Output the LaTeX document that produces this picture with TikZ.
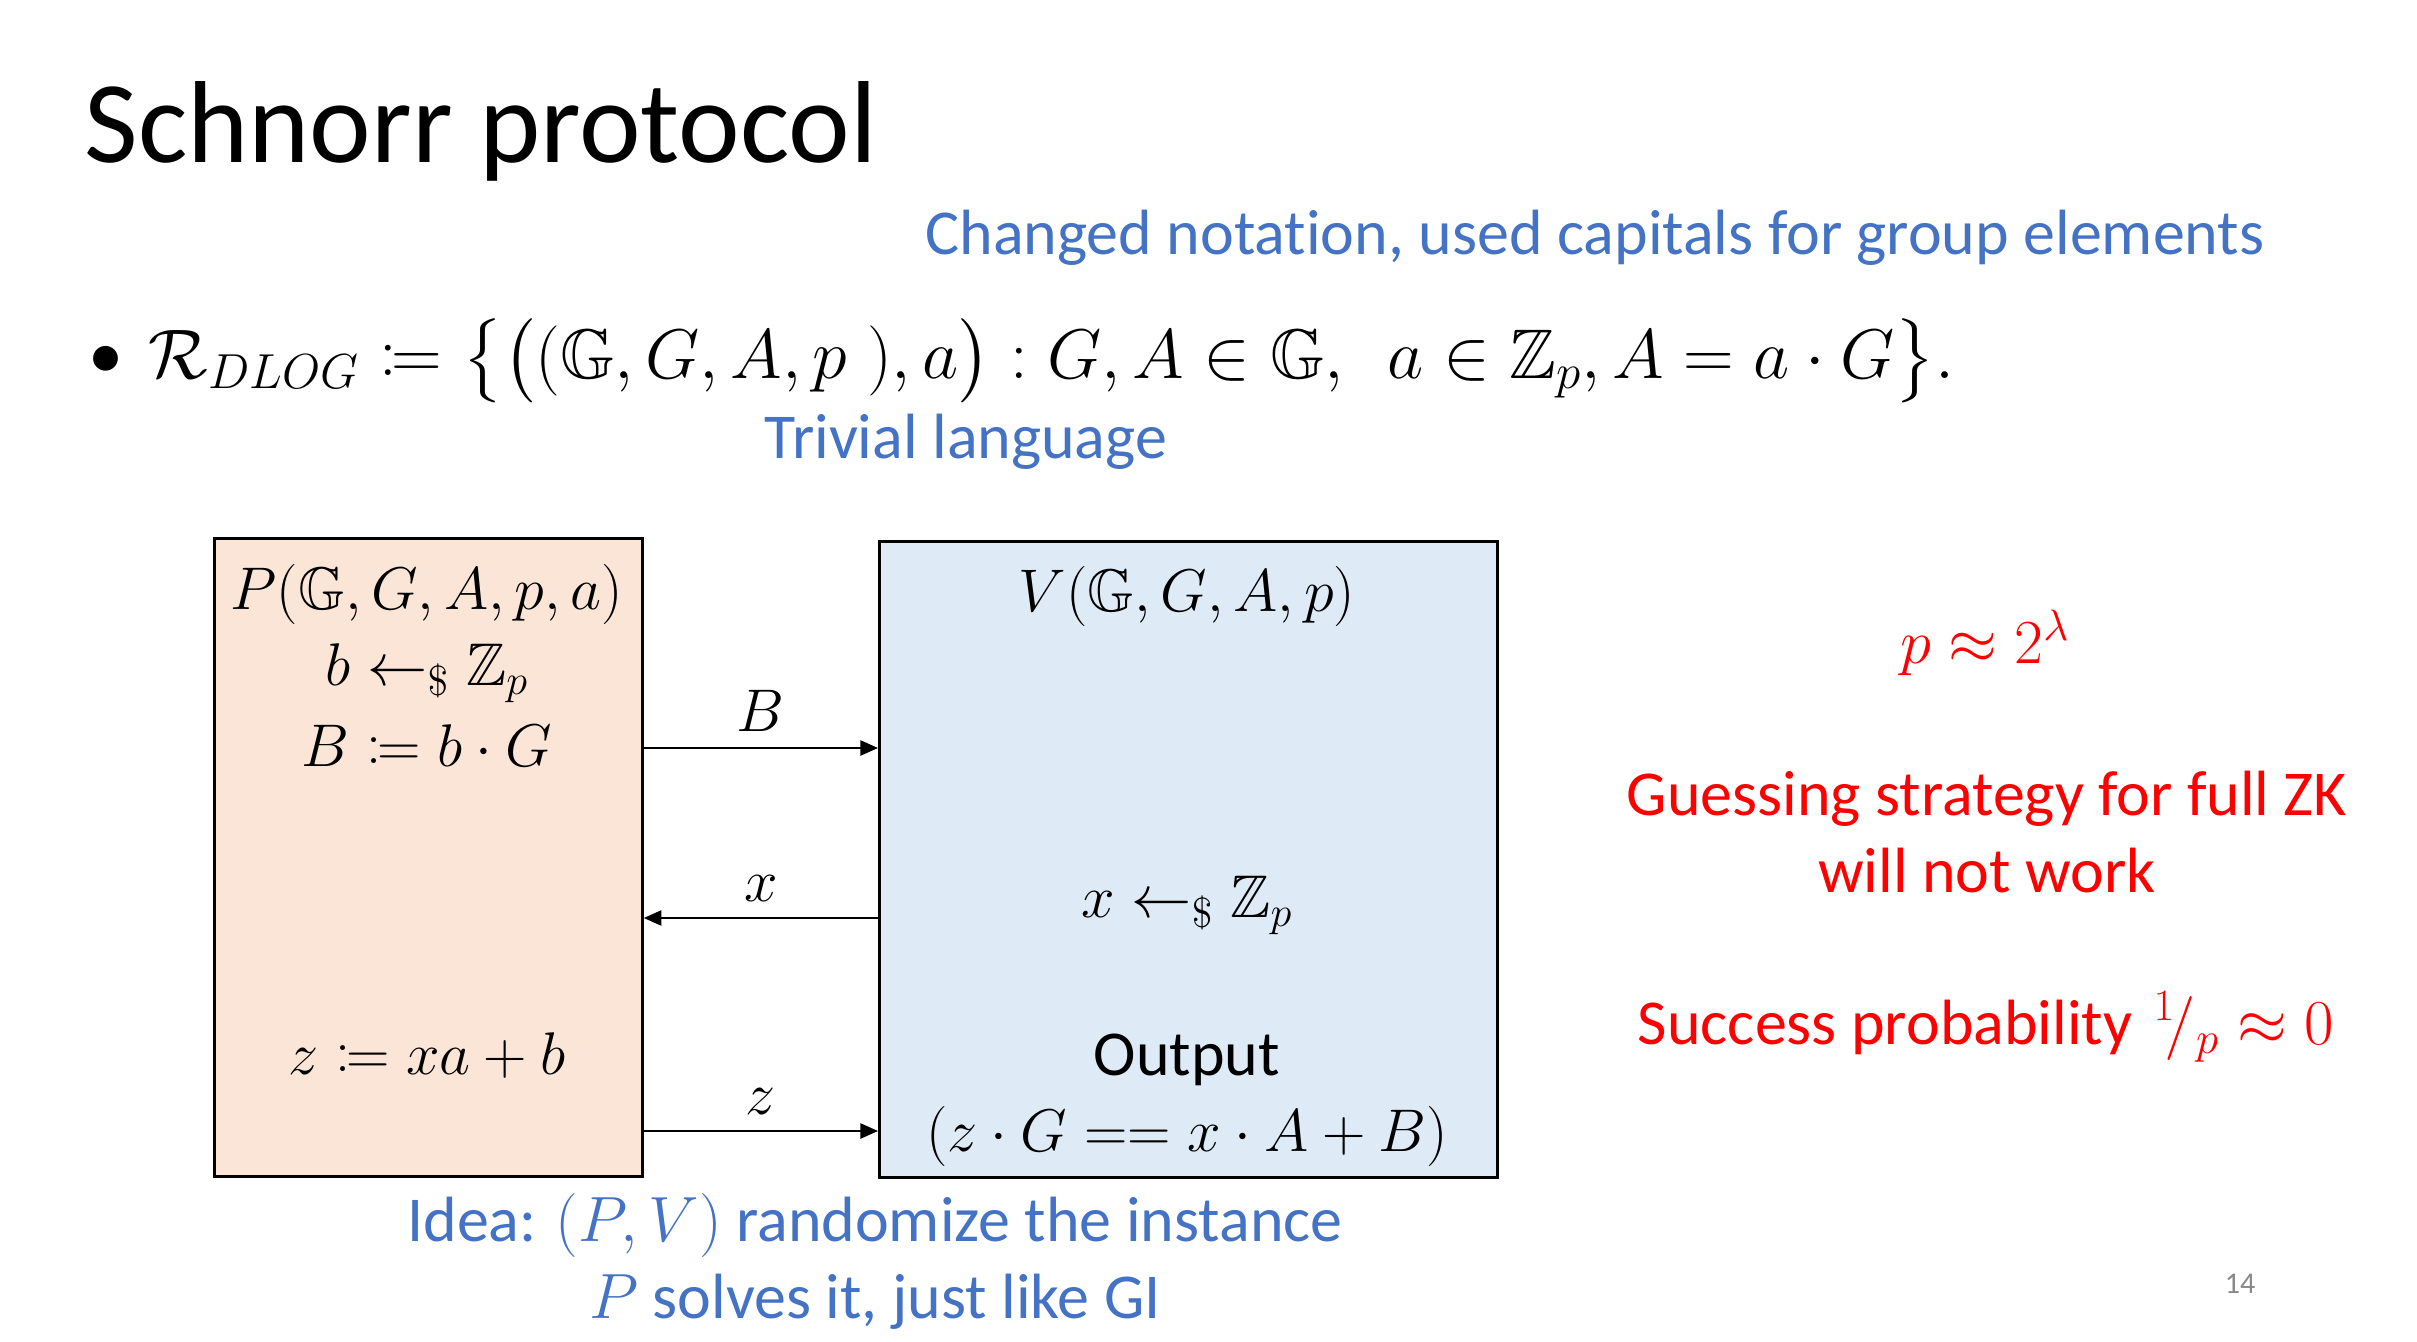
\RequirePackage{fix-cm}
\documentclass[tikz,border=0pt]{standalone}
\usepackage{amsmath}
\usepackage{amssymb}
\usepackage{mathtools}
\usepackage[no-math]{fontspec}
\setmainfont{Carlito}[Ligatures=NoCommon]
\usetikzlibrary{arrows.meta}
\definecolor{slideblue}{HTML}{4472C4}
\definecolor{slidered}{HTML}{FF0000}
\definecolor{provfill}{HTML}{FBE5D6}
\definecolor{verfill}{HTML}{DEEBF7}
\definecolor{pagegray}{HTML}{898989}

\begin{document}
\begin{tikzpicture}[x=0.014cm, y=-0.014cm,
        txt/.style={inner sep=0pt, font=\fontsize{25.5}{30}\selectfont},
        mth/.style={inner sep=0pt, font=\fontsize{24}{29}\selectfont},
        bluetxt/.style={txt, text=slideblue},
        redtxt/.style={txt, text=slidered},
        party/.style={draw=black, line width=1.2pt, anchor=north west, inner sep=0pt},
        msg/.style={line width=0.9pt, -{Triangle[length=7pt,width=6pt]}},
        msglbl/.style={mth, above=6pt}]
        \useasboundingbox (0,0) rectangle (2417,1341);
        % heading
        \node[txt, anchor=base west, font=\fontsize{46.5}{55}\selectfont] (title) at (84,162) {Schnorr protocol};
        \node[bluetxt, anchor=base] (notation) at (1595,254) {Changed notation, used capitals for group elements};
        \node[mth, anchor=base west, font=\fontsize{28}{34}\selectfont] (rel) at (88,378)
            {\textbullet\hspace{10pt}$\mathcal{R}_{DLOG} \coloneqq \bigl\{\bigl((\mathbb{G}, G, A, p\;), a\bigr) : G, A \in \mathbb{G},\ \ a \in \mathbb{Z}_p, A = a \cdot G\bigr\}.$};
        \node[bluetxt, anchor=base] (triv) at (966,458) {Trivial language};
        % parties
        \node[party, fill=provfill, minimum width=5.992cm, minimum height=8.932cm] (prover) at (213,537) {};
        \node[party, fill=verfill, minimum width=8.652cm, minimum height=8.904cm] (verifier) at (878,540) {};
        \node[mth, anchor=base] (pin) at (427,609) {$P(\mathbb{G}, G, A, p, a)$};
        \node[mth, anchor=base] (pb) at (427,685) {$b \leftarrow_{\$} \mathbb{Z}_p$};
        \node[mth, anchor=base] (pB) at (427,766) {$B \coloneqq b \cdot G$};
        \node[mth, anchor=base] (pz) at (427,1074) {$z \coloneqq xa + b$};
        \node[mth, anchor=base] (vin) at (1187,611) {$V(\mathbb{G}, G, A, p)$};
        \node[mth, anchor=base] (vx) at (1187,917) {$x \leftarrow_{\$} \mathbb{Z}_p$};
        \node[txt, anchor=base] (vout) at (1187,1075) {Output};
        \node[mth, anchor=base] (vchk) at (1187,1151) {$(z \cdot G == x \cdot A + B)$};
        % messages
        \draw[msg] (prover.east |- 0,748) -- node[msglbl] (lblB) {$B$} (verifier.west |- 0,748);
        \draw[msg] (verifier.west |- 0,918) -- node[msglbl] (lblx) {$x$} (prover.east |- 0,918);
        \draw[msg] (prover.east |- 0,1131) -- node[msglbl] (lblz) {$z$} (verifier.west |- 0,1131);
        % remarks
        \node[redtxt, anchor=base, font=\fontsize{25}{30}\selectfont] (psize) at (1985,663) {$p \approx 2^{\lambda}$};
        \node[redtxt, anchor=base] (guess) at (1987,815) {Guessing strategy for full ZK};
        \node[redtxt, anchor=base] (guess2) at (1987,892) {will not work};
        \node[redtxt, anchor=base] (succ) at (1986,1044) {Success probability\,\,${}^{1}\!/{}_{p} \approx 0$};
        \node[bluetxt, anchor=base] (idea) at (875,1241) {Idea: $(P, V)$ randomize the instance};
        \node[bluetxt, anchor=base] (idea2) at (875,1318) {$P$ solves it, just like GI};
        \node[txt, text=pagegray, font=\fontsize{12}{14}\selectfont] (pnum) at (2240,1284) {14};
    \end{tikzpicture}
\end{document}
